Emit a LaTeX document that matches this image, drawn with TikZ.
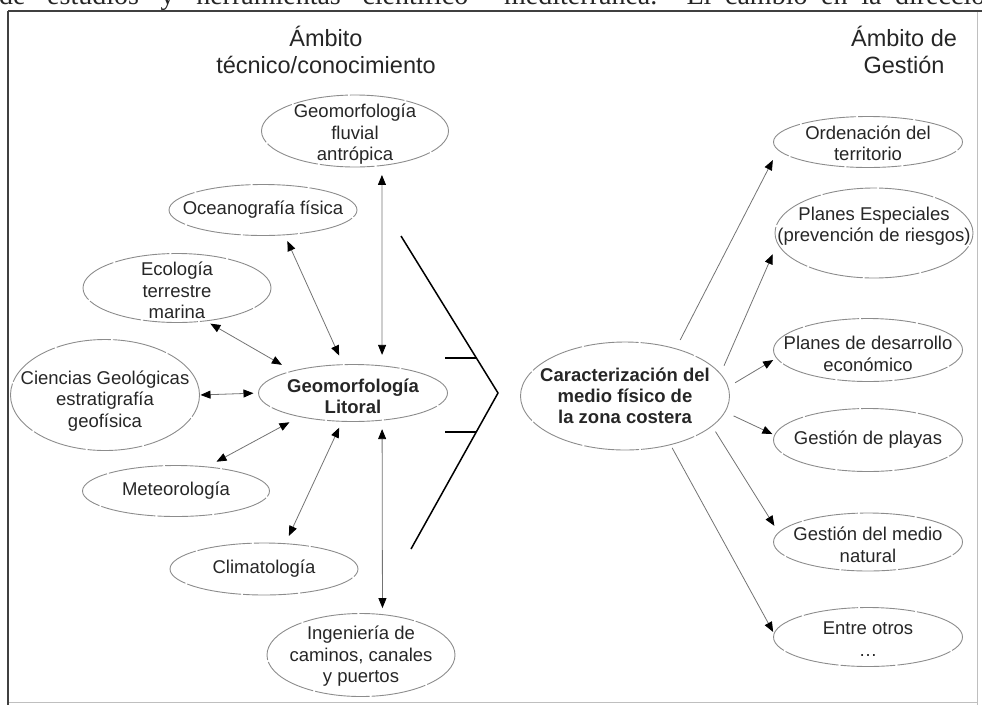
\documentclass[tikz,border=0pt]{standalone}
\usepackage{fontspec}
\setmainfont{Liberation Sans}
\newfontfamily\bodyserif{Liberation Serif}
\usetikzlibrary{arrows.meta}
\usetikzlibrary{shapes.geometric}

\tikzset{
  bub/.style={ellipse, draw=black!45, line width=0.9pt,
      dash pattern=on 55pt off 2pt, inner sep=0pt, outer sep=0pt},
  lbl/.style={align=center, inner sep=0pt, text=black!85,
      font=\fontsize{18.5}{21.5}\selectfont},
  boldlbl/.style={lbl, font=\bfseries\fontsize{18.5}{21}\selectfont},
  tip/.tip={Triangle[length=10pt,width=8pt,color=black]},
  link/.style={draw=black!55, line width=0.8pt, -tip},
  dlink/.style={draw=black!55, line width=0.8pt, tip-tip},
  title/.style={align=center, text=black!85, font=\fontsize{23.5}{27.5}\selectfont},
}

\begin{document}
\begin{tikzpicture}[x=1pt, y=-1pt]
  \useasboundingbox (0,0) rectangle (982,705);
  \clip (0,0) rectangle (982,705);

  % running text of the page, cut by the crop
  \node[anchor=base west, inner sep=0pt, text=black!85,
      font=\bodyserif\fontsize{28}{30}\selectfont] (pageleft) at (-1,4)
      {\makebox[469pt][s]{de estudios y herramientas científico}};
  \node[anchor=base west, inner sep=0pt, text=black!85,
      font=\bodyserif\fontsize{28}{30}\selectfont] (pageright) at (504,4)
      {\makebox[495pt][s]{mediterránea. El cambio en la dirección}};

  % frame
  \draw[black!25, line width=0.8pt] (977,11) -- (977,705);
  \draw[black!25, line width=0.8pt] (8,702) -- (977,702);
  \draw[black!75, line width=2.2pt] (8,11) -- (982,11);
  \draw[black!75, line width=2.6pt] (8,11) -- (8,705);

  % column titles
  \node[title] (ttec) at (326,50) {Ámbito\\técnico/conocimiento};
  \node[title] (tges) at (904,50) {Ámbito de\\Gestión};

  % knowledge side
  \node[bub, minimum width=187pt, minimum height=72pt,
      label={[lbl, yshift=-3.5pt]center:{Geomorfología\\fluvial\\antrópica}}] (fluv) at (355,131) {};
  \node[bub, minimum width=188pt, minimum height=51pt,
      label={[lbl]center:{Oceanografía física}}] (ocean) at (263,210) {};
  \node[bub, minimum width=188pt, minimum height=69pt,
      label={[lbl, yshift=-2.5pt]center:{Ecología\\terrestre\\marina}}] (eco) at (177,288) {};
  \node[bub, minimum width=189pt, minimum height=111pt,
      label={[lbl, yshift=-6pt]center:{Ciencias Geológicas\\estratigrafía\\geofísica}}] (cien) at (105,395) {};
  \node[bub, minimum width=189pt, minimum height=57pt,
      label={[boldlbl, yshift=-3pt]center:{Geomorfología\\Litoral}}] (lit) at (353,393) {};
  \node[bub, minimum width=187pt, minimum height=51pt,
      label={[lbl]center:{Meteorología}}] (meteo) at (176,491) {};
  \node[bub, minimum width=188pt, minimum height=52pt,
      label={[lbl]center:{Climatología}}] (clima) at (264,569) {};
  \node[bub, minimum width=188pt, minimum height=83pt,
      label={[lbl, yshift=-1.5pt]center:{Ingeniería de\\caminos, canales\\y puertos}}] (ing) at (361,655) {};

  \draw[dlink, shorten <=9.5pt, shorten >=11pt] (fluv.-52) -- (lit.43);
  \draw[dlink, shorten <=6.8pt, shorten >=10pt] (ocean.-49) -- (lit.109);
  \draw[dlink, shorten <=5.5pt, shorten >=12.5pt] (eco.-49) -- (lit.160);
  \draw[dlink, shorten <=1pt, shorten >=5pt] (cien.east) -- (lit.west);
  \draw[dlink, shorten <=11pt, shorten >=12pt] (meteo.38.5) -- (lit.204.7);
  \draw[dlink, shorten <=8.5pt, shorten >=7pt] (clima.50.9) -- (lit.249.6);
  \draw[dlink, shorten <=9pt, shorten >=6.5pt] (lit.-43) -- (ing.62.6);

  % bracket
  \draw[black, line width=1.5pt] (401,236) -- (498,393) -- (411,549);
  \draw[black, line width=1.5pt] (445,358) -- (476,358);
  \draw[black, line width=1.5pt] (445,432) -- (476,432);

  % management side
  \node[bub, minimum width=209pt, minimum height=108pt,
      label={[boldlbl]center:{Caracterización del\\medio físico de\\la zona costera}}] (car) at (625,396) {};
  \node[bub, minimum width=189pt, minimum height=51pt,
      label={[lbl, yshift=-1.5pt]center:{Ordenación del\\territorio}}] (ord) at (868,142) {};
  \node[bub, minimum width=198pt, minimum height=90pt,
      label={[lbl, yshift=7pt]center:{Planes Especiales\\(prevención de riesgos)}}] (pesp) at (874,233) {};
  \node[bub, minimum width=189pt, minimum height=63pt,
      label={[lbl, yshift=-4pt]center:{Planes de desarrollo\\económico}}] (pdes) at (868,350) {};
  \node[bub, minimum width=189pt, minimum height=63pt,
      label={[lbl]center:{Gestión de playas}}] (play) at (868,440) {};
  \node[bub, minimum width=189pt, minimum height=58pt,
      label={[lbl, yshift=-3pt]center:{Gestión del medio\\natural}}] (mnat) at (868,542) {};
  \node[bub, minimum width=189pt, minimum height=59pt,
      label={[lbl, yshift=-2pt]center:{Entre otros\\…}}] (otros) at (868,637) {};

  \draw[link, shorten <=10pt, shorten >=11.5pt] (car.43) -- (ord.185);
  \draw[link, shorten <=9pt, shorten >=12pt] (car.13.5) -- (pesp.186.5);
  \draw[link, shorten <=8.3pt, shorten >=4pt] (car.5.4) -- (pdes.185);
  \draw[link, shorten <=9.6pt, shorten >=2.5pt] (car.-9.7) -- (play.177.6);
  \draw[link, shorten <=6.7pt, shorten >=8pt] (car.-19.3) -- (mnat.174.8);
  \draw[link, shorten <=3.7pt, shorten >=2pt] (car.-47.2) -- (otros.178);
\end{tikzpicture}
\end{document}
